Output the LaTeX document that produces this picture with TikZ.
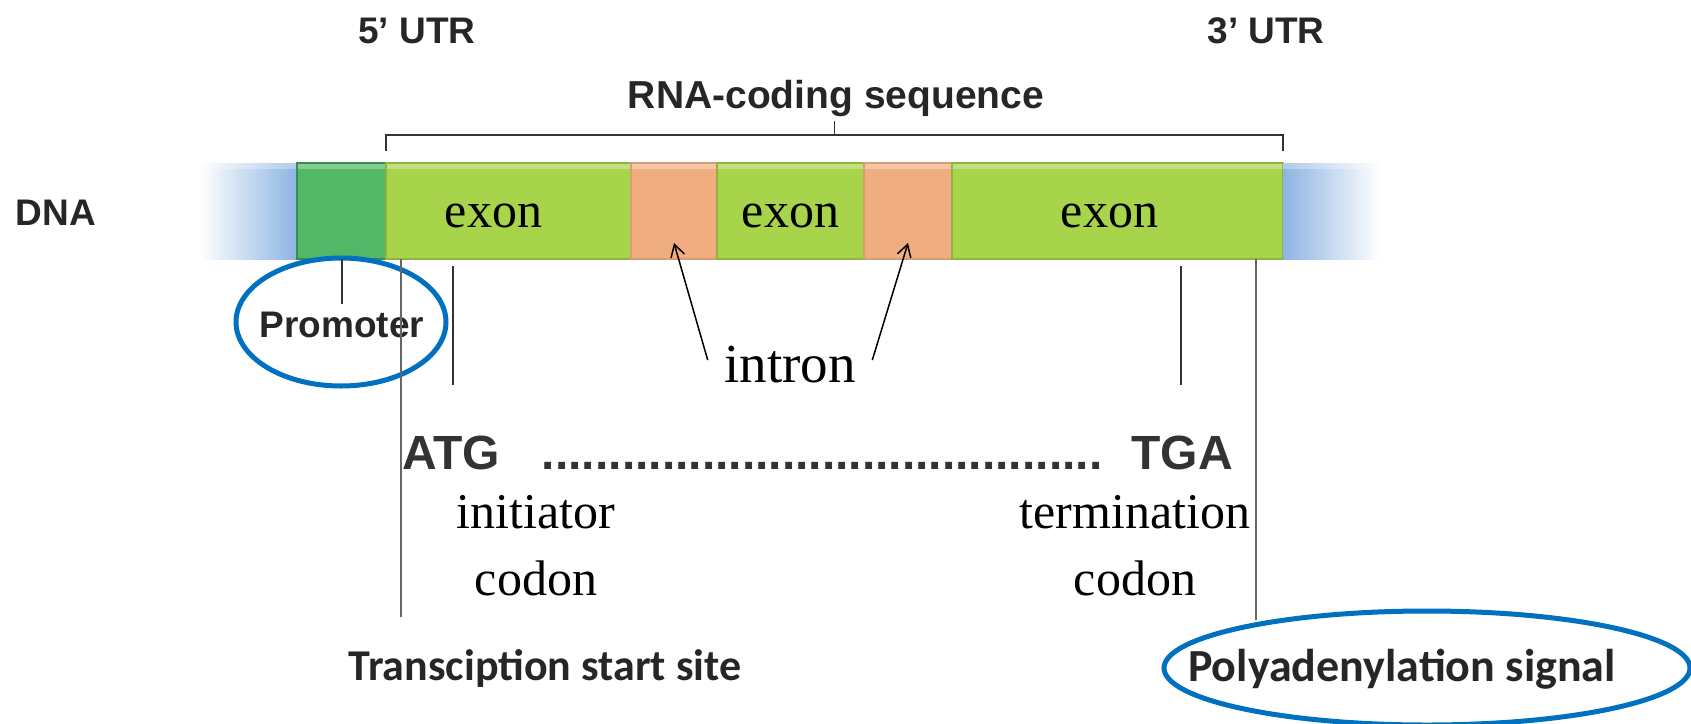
\documentclass[tikz,border=0pt]{standalone}
\usepackage{fontspec}
\setmainfont{Liberation Serif}
\newfontfamily\labelfont{Liberation Sans}
\newfontfamily\signalfont{Carlito}
\usetikzlibrary{positioning,shapes.geometric,arrows.meta}
\definecolor{dnablue}{RGB}{141,180,226}
\definecolor{promgreen}{RGB}{82,184,104}
\definecolor{exongreen}{RGB}{168,212,75}
\definecolor{intronorange}{RGB}{240,174,128}
\definecolor{ovalblue}{RGB}{0,112,192}

\begin{document}
\begin{tikzpicture}[x=0.5pt, y=-0.5pt, semithick, >={Straight Barb[length=6pt,width=7pt]}]
  \tikzstyle{seg}=[rectangle, minimum height=48pt, inner sep=0pt, outer sep=0pt, line width=0.6pt,
     font=\fontsize{25}{28}\selectfont, text height=17pt,
     path picture={\fill[white,opacity=.3] (path picture bounding box.north west) rectangle ([yshift=-3pt]path picture bounding box.north east);}]
  \tikzstyle{prombox}=[seg, fill=promgreen, draw=promgreen!75!black]
  \tikzstyle{exonbox}=[seg, fill=exongreen, draw=exongreen!85!black]
  \tikzstyle{intronbox}=[seg, fill=intronorange, draw=intronorange!90!black]
  \tikzstyle{sans}=[anchor=base, font=\labelfont\bfseries\fontsize{18.5}{22}\selectfont, text=black!85]
  \tikzstyle{codon}=[anchor=base, font=\labelfont\bfseries\fontsize{24}{28}\selectfont, text=black!80]
  \tikzstyle{serif}=[anchor=base, inner sep=0pt, font=\fontsize{25}{28}\selectfont]
  \tikzstyle{signal}=[anchor=base, font=\signalfont\bfseries\fontsize{22}{26}\selectfont, text=black!85]
  \tikzstyle{oval}=[ellipse, draw=ovalblue, line width=2.5pt]
  \tikzstyle{tick}=[draw=black!80, line width=1pt]
  \tikzstyle{vline}=[draw=black!60, line width=1pt]
  \useasboundingbox (0,0) rectangle (1691,723);

  % DNA strand
  \node[seg, left color=white, right color=dnablue, minimum width=48.5pt, anchor=west] (bluel) at (200,211) {};
  \node[prombox, minimum width=44.5pt]   (prom)    [right=0pt of bluel]   {};
  \node[exonbox, minimum width=122.5pt]  (exonA)   [right=0pt of prom]    {\hspace*{-15pt}exon};
  \node[intronbox, minimum width=43pt]   (intronA) [right=0pt of exonA]   {};
  \node[exonbox, minimum width=73.5pt]   (exonB)   [right=0pt of intronA] {exon};
  \node[intronbox, minimum width=44pt]   (intronB) [right=0pt of exonB]   {};
  \node[exonbox, minimum width=165.5pt]  (exonC)   [right=0pt of intronB] {\hspace*{-8pt}exon};
  \node[seg, left color=dnablue, right color=white, minimum width=48.5pt] (bluer) [right=0pt of exonC] {};

  \node[sans] (dna)  at (56,225)  {DNA};
  \node[sans] (utr5) at (417,43)  {5’ UTR};
  \node[sans] (utr3) at (1266,43) {3’ UTR};
  \node[sans, font=\labelfont\bfseries\fontsize{19.5}{22}\selectfont] (rna) at (836,108) {RNA-coding sequence};

  % bracket
  \draw[tick, line width=0.8pt] ([yshift=6pt]exonA.north west) |- coordinate[pos=.75] (brmid) ([yshift=14pt]exonC.north east)
        -- ([yshift=6pt]exonC.north east);
  \draw[tick, line width=0.8pt] (brmid) -- ++(0,-14);

  % promoter
  \node[sans] (promtxt) at (342,337) {Promoter};
  \node[oval, minimum width=105pt, minimum height=64pt] (promoval) at (341,322) {};
  \draw[tick] (prom.south) -- (prom.south |- promtxt.north);

  % codons
  \node[codon] (atg)  at (451,469)  {ATG};
  \node[codon] (dots) at (822,469)  {..........................................};
  \node[codon] (tga)  at (1182,469) {TGA};
  \coordinate (atgtop) at (453,266);
  \coordinate (atgbot) at (453,385);
  \coordinate (tgatop) at (1181,266);
  \coordinate (tgabot) at (1181,385);
  \draw[tick] (atgtop) -- (atgbot);
  \draw[tick] (tgatop) -- (tgabot);

  \node[serif] (init1) at (536,528)  {initiator};
  \node[serif] (init2) at (536,595)  {codon};
  \node[serif] (term1) at (1135,528) {termination};
  \node[serif] (term2) at (1135,595) {codon};

  % introns
  \node[serif, font=\fontsize{27.5}{30}\selectfont] (intron) at (790,382) {intron};
  \draw[->, line width=0.75pt] ([shift={(-8pt,2pt)}]intron.west) -- ([yshift=8pt]intronA.south);
  \draw[->, line width=0.75pt] ([shift={(8pt,2pt)}]intron.east) -- ([yshift=8pt]intronB.south);

  % start and polyA
  \node[signal] (tss)  at (545,680)  {Transciption start site};
  \node[signal, font=\signalfont\bfseries\fontsize{23}{26}\selectfont] (poly) at (1402,681) {Polyadenylation signal};
  \node[oval, minimum width=263pt, minimum height=57pt] (polyoval) at (1427,668) {};
  \coordinate (tssend)  at (401,617);
  \coordinate (polyend) at (1256,620);
  \draw[vline] (tssend |- exonA.south) -- (tssend);
  \draw[vline] (polyend |- exonC.south) -- (polyend);
\end{tikzpicture}
\end{document}
